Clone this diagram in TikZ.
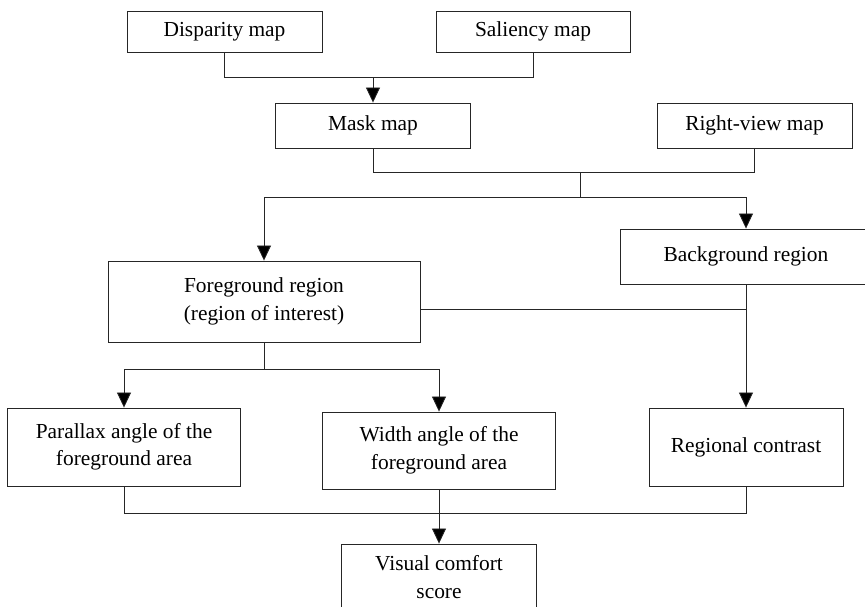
\documentclass[tikz,border=0pt]{standalone}
\usepackage{fontspec}
\setmainfont{Liberation Serif}
\usepackage{tikz}
\usetikzlibrary{arrows.meta}

\begin{document}
\begin{tikzpicture}[x=1pt,y=-1pt,semithick]
  \tikzstyle{block}=[draw=black!85,line width=0.9pt,fill=white,text=black,align=center,inner sep=2pt,font=\fontsize{21.4}{27.5}\selectfont]
  \tikzstyle{arr}=[-{Triangle[length=15pt,width=14pt,fill=black]},draw=black!85,line width=0.8pt]
  \tikzstyle{wire}=[draw=black!85,line width=0.8pt]

  \useasboundingbox (0,0) rectangle (865,606);

  \node[block,minimum width=195pt,minimum height=41pt] (disp) at (224.5,31.5) {Disparity map};
  \node[block,minimum width=194pt,minimum height=41pt] (sal)  at (533,31.5)   {Saliency map};
  \node[block,minimum width=195pt,minimum height=45pt] (mask) at (373,125.5)  {Mask map};
  \node[block,minimum width=195pt,minimum height=45pt] (right) at (754.5,125.5) {Right-view map};
  \node[block,minimum width=252pt,minimum height=55pt] (bg)   at (746,256.5)  {Background region};
  \node[block,minimum width=312pt,minimum height=81pt] (fg)   at (264,301.5)  {Foreground region\\(region of interest)};
  \node[block,minimum width=233pt,minimum height=78pt] (par)  at (124,447)    {Parallax angle of the\\foreground area};
  \node[block,minimum width=233pt,minimum height=77pt] (wid)  at (439,450.5)  {Width angle of the\\foreground area};
  \node[block,minimum width=194pt,minimum height=78pt] (reg)  at (746,447)    {Regional contrast};
  \node[block,minimum width=195pt,minimum height=66pt] (vis)  at (439,577)    {Visual comfort\\score};

  \coordinate (j1) at (373,77);
  \coordinate (j2) at (580,172);
  \coordinate (j3) at (580,197);
  \coordinate (j4) at (746,309);
  \coordinate (j5) at (264,369);
  \coordinate (j6) at (439,513);

  \draw[wire] (disp.south) |- (j1);
  \draw[wire] (sal.south) |- (j1);
  \draw[arr] (j1) -- (mask.north);

  \draw[wire] (mask.south) |- (j2);
  \draw[wire] (right.south) |- (j2);
  \draw[wire] (j2) -- (j3);
  \draw[arr] (j3) -| (fg.north);
  \draw[arr] (j3) -| (bg.north);

  \draw[wire] (j4 -| fg.east) -- (j4);
  \draw[arr] (bg.south) -- (reg.north);

  \draw[wire] (fg.south) -- (j5);
  \draw[arr] (j5) -| (par.north);
  \draw[arr] (j5) -| (wid.north);

  \draw[wire] (par.south) |- (j6);
  \draw[wire] (reg.south) |- (j6);
  \draw[arr] (wid.south) -- (vis.north);

\end{tikzpicture}
\end{document}
